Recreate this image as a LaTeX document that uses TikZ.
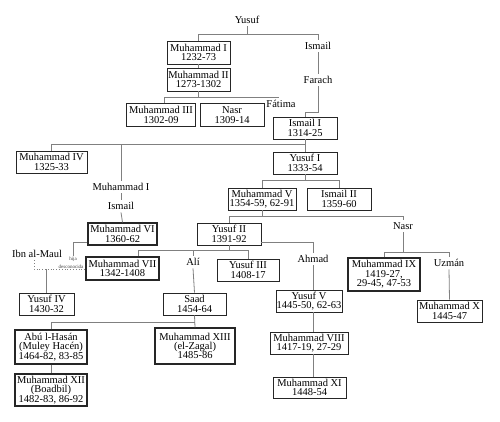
\documentclass[tikz,border=0pt]{standalone}
\usepackage{fontspec}
\setmainfont{Liberation Serif}
\begin{document}
\begin{tikzpicture}[x=1pt,y=-1pt,
  bx/.style={draw=black!85, line width=0.9pt, fill=white, align=center, inner sep=0.5pt, font=\fontsize{10.5}{9.4}\selectfont},
  bxt/.style={bx, line width=1.3pt},
  lbl/.style={align=center, inner sep=2.5pt, font=\fontsize{10.5}{10}\selectfont},
  tinylbl/.style={inner sep=0.3pt, font=\fontsize{5}{5}\selectfont, text=black!75},
  cn/.style={draw=black!50, line width=0.8pt},
  dt/.style={draw=black!50, line width=0.8pt, dotted}]
\useasboundingbox (0,0) rectangle (500,422);

% labels
\node[lbl] (yusuf) at (247,20) {Yusuf};
\node[lbl] (ismL) at (318,46) {Ismail};
\node[lbl] (farach) at (318,80) {Farach};
\node[lbl] (fatima) at (281,104) {Fátima};
\node[lbl] (mIL) at (121,187) {Muhammad I};
\node[lbl] (ismL2) at (121,206) {Ismail};
\node[lbl] (nasrL) at (403,226) {Nasr};
\node[lbl] (ibn) at (37,254) {Ibn al-Maul};
\node[lbl] (ali) at (193,262) {Alí};
\node[lbl] (ahmad) at (313,259) {Ahmad};
\node[lbl] (uzman) at (449,263) {Uzmán};
\node[tinylbl] (hija) at (73,259) {hija};
\node[tinylbl] (desc) at (71,266.3) {desconocida};

% boxes
\node[bx, minimum width=63pt, minimum height=23pt] (m1) at (198.5,52.5) {Muhammad I\\1232-73};
\node[bx, minimum width=63pt, minimum height=23pt] (m2) at (198.5,79.5) {Muhammad II\\1273-1302};
\node[bx, minimum width=69pt, minimum height=23pt] (m3) at (161,115) {Muhammad III\\1302-09};
\node[bx, minimum width=64pt, minimum height=23pt] (nasrB) at (232,115) {Nasr\\1309-14};
\node[bx, minimum width=64pt, minimum height=22pt] (is1) at (305,128) {Ismail I\\1314-25};
\node[bx, minimum width=71pt, minimum height=22pt] (m4) at (51.5,162) {Muhammad IV\\1325-33};
\node[bx, minimum width=64pt, minimum height=22pt] (y1) at (305,163) {Yusuf I\\1333-54};
\node[bx, minimum width=68pt, minimum height=22pt] (m5) at (262,199) {Muhammad V\\1354-59, 62-91};
\node[bx, minimum width=64pt, minimum height=22pt] (is2) at (339,199) {Ismail II\\1359-60};
\node[bxt, minimum width=69pt, minimum height=22pt] (m6) at (122.5,234) {Muhammad VI\\1360-62};
\node[bx, minimum width=64pt, minimum height=22pt] (y2) at (229,234) {Yusuf II\\1391-92};
\node[bxt, minimum width=73pt, minimum height=23pt] (m7) at (122.5,268.5) {Muhammad VII\\1342-1408};
\node[bx, minimum width=62pt, minimum height=22pt] (y3) at (248,270) {Yusuf III\\1408-17};
\node[bxt, minimum width=72pt, minimum height=33pt] (m9) at (384,274.5) {Muhammad IX\\1419-27,\\29-45, 47-53};
\node[bx, minimum width=55pt, minimum height=22pt] (y4) at (46.5,304) {Yusuf IV\\1430-32};
\node[bx, minimum width=63pt, minimum height=22pt] (saad) at (194.5,304) {Saad\\1454-64};
\node[bx, minimum width=66pt, minimum height=22pt] (y5) at (309,301) {Yusuf V\\1445-50, 62-63};
\node[bx, minimum width=65pt, minimum height=22pt] (m10) at (449.5,311) {Muhammad X\\1445-47};
\node[bxt, minimum width=72pt, minimum height=34pt] (abu) at (51,347) {Abú l-Hasán\\(Muley Hacén)\\1464-82, 83-85};
\node[bxt, minimum width=80pt, minimum height=36pt] (m13) at (195,346) {Muhammad XIII\\(el-Zagal)\\1485-86};
\node[bx, minimum width=78pt, minimum height=22pt] (m8) at (309,343) {Muhammad VIII\\1417-19, 27-29};
\node[bxt, minimum width=72pt, minimum height=32pt] (m12) at (51,390) {Muhammad XII\\(Boadbil)\\1482-83, 86-92};
\node[bx, minimum width=73pt, minimum height=21pt] (m11) at (309.5,387.5) {Muhammad XI\\1448-54};

% connectors
\draw[cn] (yusuf.south) -- (yusuf.south |- 0,34);
\draw[cn] (m1.north) -- (m1.north |- 0,34) -| (ismL.north);
\draw[cn] (m1.south) -- (m2.north);
\draw[cn] (ismL.south) -- (farach.north);
\draw[cn] (m2.south) -- (m2.south |- 0,97);
\draw[cn] (m3.north -| 164,0) -- (164,97) -| (fatima.north -| 278,0);
\draw[cn] (farach.south) -- (farach.south |- 0,112) -| (is1.north);
\draw[cn] (is1.south) -- (y1.north);
\draw[cn] (m4.north) |- (is1.south |- 0,144);
\draw[cn] (mIL.north) -- (mIL.north |- 0,144);
\draw[cn] (mIL.south) -- (ismL2.north);
\draw[cn] (ismL2.south) -- (m6.north);
\draw[cn] (y1.south) -- (y1.south |- 0,180);
\draw[cn] (m5.north) |- (is2.north |- 0,180) -- (is2.north);
\draw[cn] (m5.south) -- (m5.south |- 0,216);
\draw[cn] (y2.north) |- (nasrL.north |- 0,216) -- (nasrL.north);
\draw[cn] (nasrL.south) -- (nasrL.south |- 0,252);
\draw[cn] (m9.north) |- (uzman.north |- 0,252) -- (uzman.north);
\draw[cn] (uzman.south) -- (m10.north);
\draw[cn] (y2.south) -- (y2.south |- 0,250);
\draw[cn] (m7.north -| 138,0) -- (138,250) -| (y3.north);
\draw[cn] (ali.north) -- (ali.north |- 0,250);
\draw[cn] (ali.south) -- (saad.north);
\draw[cn] (y2.east |- 0,242.5) -| (ahmad.north);
\draw[cn] (ahmad.south) -- (ahmad.south |- y5.north);
\draw[cn] (ahmad.south |- y5.south) -- (ahmad.south |- m8.north);
\draw[cn] (ahmad.south |- m8.south) -- (ahmad.south |- m11.north);
\draw[cn] (saad.south) -- (m13.north);
\draw[cn] (abu.north) |- (saad.south |- 0,322);
\draw[cn] (abu.south) -- (m12.north);
\draw[cn] (m6.west |- 0,242.5) -| (hija.north);
\draw[dt] (ibn.south -| 34,0) |- (m7.west |- 0,269);
\draw[cn] (y4.north) -- (y4.north |- 0,269);
\end{tikzpicture}
\end{document}
